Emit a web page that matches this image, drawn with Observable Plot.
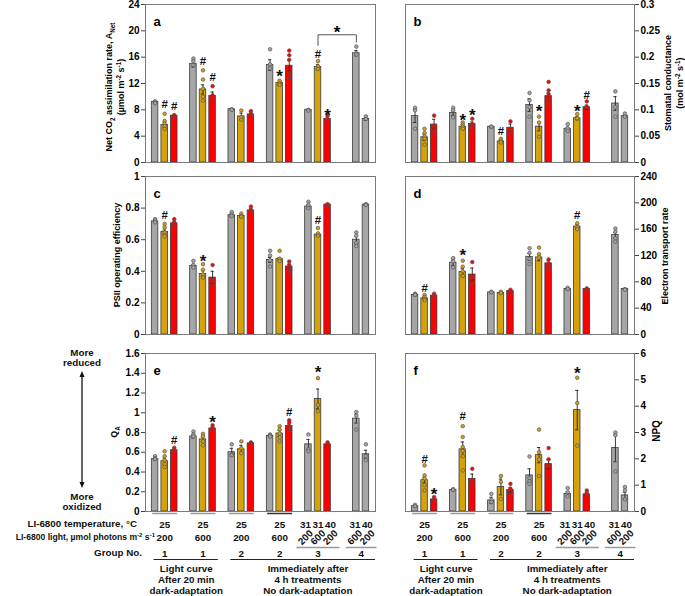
<!DOCTYPE html>
<html><head><meta charset="utf-8">
<script src="https://cdn.jsdelivr.net/npm/d3@7"></script>
<script src="https://cdn.jsdelivr.net/npm/@observablehq/plot@0.6"></script>
<style>
body{margin:0;background:#fff;}
#fig{position:relative;width:685px;height:596px;overflow:hidden;background:#fff;}
#fig svg{position:absolute;overflow:visible;}
</style></head><body><div id="fig"></div>
<script>
// ---------- DATA ----------
const seriesNames = ["ctrl","gold","red"];
const barGroup  = [0,0,0, 1,1,1, 2,2,2, 3,3,3, 4,4,4, 5,5];
const barPos    = [0,1,2, 0,1,2, 0,1,2, 0,1,2, 0,1,2, 1,2];
const barSeries = ["ctrl","gold","red","ctrl","gold","red","ctrl","gold","red","ctrl","gold","red","ctrl","gold","red","ctrl","ctrl"];

const tempLabels  = [["25"],["25"],["25"],["25"],["31","31","40"],["31","40"]];
const lightLabels = [["200"],["600"],["200"],["600"],["200","600","200"],["600","200"]];
const groupNos    = ["1","1","2","2","3","4"];
const conditionLabels = [["Light curve","After 20 min","dark-adaptation"],["Immediately after","4 h treatments","No dark-adaptation"]];
const conditionGroups = [[0,1],[2,3,4,5]];

// a: Net CO2 assimilation
const meansA = [9.2,5.7,7.1, 15.0,11.1,10.1, 8.1,7.0,7.3, 14.8,12.1,14.7, 8.0,14.5,6.6, 16.6,6.6];
const seA    = [0.2,0.4,0.15, 0.5,0.7,0.6, 0.1,0.5,0.4, 0.8,0.4,0.8, 0.1,0.4,0.3, 0.4,0.2];
const dotsA  = [[9.3,9.1,9.0],[7.4,6.3,5.9,5.5,5.1],[7.2,7.0,7.1],[15.8,15.4,14.8],[14.0,12.6,11.2,10.0,9.4],[11.6,10.2,9.6],[8.1,8.0],[7.9,6.9,6.5],[7.8,7.4,7.1],[17.2,14.9,14.3],[12.4,12.0,11.8],[17.0,16.3,15.6,13.5,13.0],[8.0,7.9],[15.4,14.6,14.2],[7.1,6.6,6.4],[17.6,16.6,16.4],[7.0,6.6]];
const sigA   = [[1,"#",8.8],[2,"#",8.6],[4,"#",15.3],[5,"#",12.9],[10,"*",13.7],[13,"#",16.5],[14,"*",7.8]];
const bracketA = {from:13, to:15, top:19.4, leftEnd:17.8, rightEnd:18.3, sym:"*", symY:20.3};

// b: stomatal conductance
const meansB = [0.088,0.048,0.072, 0.094,0.068,0.073, 0.068,0.040,0.066, 0.109,0.068,0.126, 0.064,0.084,0.105, 0.112,0.088];
const seB    = [0.012,0.006,0.010, 0.004,0.004,0.004, 0.001,0.003,0.007, 0.012,0.008,0.006, 0.003,0.003,0.004, 0.013,0.002];
const dotsB  = [[0.104,0.099,0.064],[0.064,0.056,0.05,0.045,0.034],[0.089,0.07,0.06],[0.104,0.099,0.086],[0.076,0.072,0.068,0.064],[0.083,0.073,0.068],[0.068,0.068],[0.045,0.041,0.038],[0.078,0.064,0.057],[0.132,0.118,0.105,0.087],[0.087,0.076,0.049],[0.153,0.137,0.13,0.121,0.111],[0.073,0.065,0.06],[0.092,0.084],[0.116,0.106],[0.135,0.105,0.087],[0.093,0.087]];
const sigB   = [[4,"*",0.087],[5,"*",0.097],[7,"#",0.059],[10,"*",0.104],[13,"*",0.104],[14,"#",0.128]];

// c: PSII operating efficiency
const meansC = [0.716,0.65,0.703, 0.434,0.383,0.36, 0.755,0.75,0.785, 0.472,0.477,0.43, 0.81,0.632,0.822, 0.60,0.822];
const seC    = [0.006,0.012,0.01, 0.01,0.02,0.04, 0.01,0.006,0.01, 0.015,0.01,0.015, 0.012,0.006,0.003, 0.02,0.002];
const dotsC  = [[0.73,0.72,0.71],[0.70,0.678,0.646,0.63,0.62],[0.73,0.71,0.69],[0.466,0.44,0.424],[0.445,0.41,0.38,0.36],[0.44,0.34,0.31],[0.775,0.76,0.75],[0.765,0.75,0.745],[0.81,0.79,0.775],[0.53,0.50,0.47,0.43],[0.53,0.48,0.465],[0.462,0.44,0.41,0.39],[0.84,0.82,0.8],[0.674,0.64,0.625],[0.825,0.82],[0.646,0.625,0.58,0.56],[0.825,0.82]];
const sigC   = [[1,"#",0.752],[4,"*",0.487],[13,"#",0.72]];

// d: electron transport rate
const meansD = [60,55,59, 109,95,91, 64,63,66, 118,117,108, 69,164,69, 151,69];
const seD    = [1,2,1, 4,5,10, 1,1,1, 5,5,4, 1,3,1, 4,1];
const dotsD  = [[62,61,60],[60,57,54,52],[62,60,58],[116,111,102],[112,103,96,89],[110,87,78],[65,64],[65,63],[68,66],[131,124,115,107],[132,122,117],[114,108,104,99],[71,69],[169,163,160],[70,69],[161,156,146,141],[69,68]];
const sigD   = [[1,"#",70],[4,"*",126],[13,"#",181.6]];

// e: QA
const meansE = [0.53,0.51,0.62, 0.76,0.73,0.84, 0.60,0.63,0.69, 0.765,0.79,0.865, 0.68,1.14,0.68, 0.94,0.58];
const seE    = [0.01,0.03,0.01, 0.015,0.025,0.01, 0.04,0.04,0.01, 0.008,0.03,0.02, 0.05,0.1,0.01, 0.045,0.04];
const dotsE  = [[0.56,0.54,0.53],[0.61,0.56,0.52,0.48,0.45],[0.645,0.625,0.61],[0.81,0.78,0.76],[0.786,0.76,0.71,0.67],[0.874,0.85,0.83],[0.68,0.58,0.57],[0.71,0.64,0.59],[0.70,0.685],[0.78,0.77,0.76],[0.864,0.83,0.79,0.75,0.71],[0.924,0.90,0.865,0.83],[0.78,0.63,0.61],[1.35,1.08,1.015],[0.70,0.68],[1.008,0.97,0.83],[0.68,0.56,0.52]];
const sigE   = [[2,"#",0.72],[5,"*",0.94],[11,"#",1.008],[13,"*",1.452]];

// f: NPQ
const meansF = [0.2,1.19,0.46, 0.82,2.36,1.24, 0.42,0.93,0.82, 1.37,2.14,1.8, 0.67,3.85,0.65, 2.41,0.61];
const seF    = [0.03,0.1,0.05, 0.03,0.28,0.18, 0.12,0.3,0.1, 0.25,0.29,0.18, 0.08,0.75,0.05, 0.52,0.12];
const dotsF  = [[0.25,0.2],[1.75,1.37,1.25,1.0,0.8],[0.55,0.45],[0.85,0.82],[3.24,2.83,2.45,2.3,2.1,1.56],[1.62,1.2,1.05],[0.67,0.45,0.36],[1.35,1.12,0.48],[1.05,0.86,0.65],[2.09,1.27,1.15,1.05],[3.11,2.25,1.97,1.35],[2.41,1.98,1.72,1.31],[0.89,0.73,0.58],[5.08,4.12,2.5],[0.8,0.7,0.65],[3.0,2.9,1.52],[0.93,0.8,0.46]];
const sigF   = [[1,"#",2.0],[2,"*",0.8],[4,"#",3.6],[13,"*",5.4]];

const ticksA = [0,4,8,12,16,20,24];
const ticksB = [0,0.05,0.1,0.15,0.2,0.25,0.3];
const ticksC = [0,0.2,0.4,0.6,0.8,1];
const ticksD = [0,40,80,120,160,200,240];
const ticksE = [0,0.2,0.4,0.6,0.8,1,1.2,1.4,1.6];
const ticksF = [0,1,2,3,4,5,6];

// ---------- STYLE / LAYOUT ----------
const FONT = '"Liberation Sans", Arial, Helvetica, sans-serif';
const colorScale = {domain: seriesNames, range: ["#a6a6a6","#d6a20c","#ff0000"]};
const XDOM = [-1, 23];
const fig = document.getElementById("fig");
const slotOf = i => 4*barGroup[i] + barPos[i];
const groupSlots = k => barGroup.map((g,i)=>g===k?slotOf(i):null).filter(v=>v!==null);
const groupCenter = k => d3.mean(groupSlots(k));

function place(svg, left, top){ svg.style.left = left+"px"; svg.style.top = top+"px"; fig.appendChild(svg); return svg; }

function rotTitle(svg, x, y, parts, fs=9){
  const t = d3.select(svg).append("text")
    .attr("transform", `translate(${x + 0.35*fs},${y}) rotate(-90)`)
    .attr("text-anchor","middle").attr("font-size",fs).attr("font-weight","bold")
    .attr("font-family",FONT).attr("fill","#000");
  let cur = 0;
  for (const [s, kind] of parts){
    const want = kind==="sub" ? 0.28*fs : kind==="sup" ? -0.38*fs : 0;
    t.append("tspan").attr("dy", want-cur).attr("font-size", kind ? 0.7*fs : fs).text(s);
    cur = want;
  }
}

function makePanel(spec){
  const left = spec.side === "left";
  const bars = spec.means.map((m,i)=>({slot: slotOf(i), mean: m, se: spec.se[i], series: barSeries[i]}));
  const pts = spec.dots.flatMap((arr,i)=>arr.map(v=>({slot: slotOf(i), v, series: barSeries[i]})));
  const sig = spec.sig.map(([i,sym,y])=>({slot: slotOf(i), sym, y}));
  const marks = [
    Plot.axisY({anchor: left ? "left" : "right", ticks: spec.ticks, tickFormat: d => String(d), tickSize: 4, tickPadding: 2, label: null, stroke:"#444", fontSize: 10}),
    Plot.rect(bars, {x1: d=>d.slot-0.34, x2: d=>d.slot+0.34, y1: 0, y2: "mean", fill: "series", stroke: "#3a3a3a", strokeWidth: 0.8}),
    Plot.ruleX(bars, {x: "slot", y1: d=>d.mean-d.se, y2: d=>d.mean+d.se, stroke: "#222", strokeWidth: 0.9}),
    Plot.ruleY(bars, {y: d=>d.mean+d.se, x1: d=>d.slot-0.17, x2: d=>d.slot+0.17, stroke: "#222", strokeWidth: 0.9}),
    Plot.ruleY(bars, {y: d=>d.mean-d.se, x1: d=>d.slot-0.17, x2: d=>d.slot+0.17, stroke: "#222", strokeWidth: 0.9}),
    Plot.dot(pts, {x: "slot", y: "v", r: 1.8, fill: "series", stroke: "#555", strokeWidth: 0.7}),
    Plot.text(sig.filter(d=>d.sym==="#"), {x: "slot", y: "y", text: "sym", fontSize: 11.5, fontWeight: "bold", fill: "#111"}),
    Plot.text(sig.filter(d=>d.sym==="*"), {x: "slot", y: "y", text: "sym", fontSize: 17, fontWeight: "bold", dy: 4, fill: "#111"}),
    Plot.frame({stroke: "#7a7a7a", strokeWidth: 1}),
    Plot.text([spec.letter], {frameAnchor: "top-left", dx: 8, dy: 12, textAnchor: "start", fontSize: 13, fontWeight: "bold"})
  ];
  if (spec.bracket){
    const b = spec.bracket;
    const line = [{slot: slotOf(b.from), y: b.leftEnd},{slot: slotOf(b.from), y: b.top},{slot: slotOf(b.to), y: b.top},{slot: slotOf(b.to), y: b.rightEnd}];
    marks.push(Plot.line(line, {x: "slot", y: "y", stroke: "#555", strokeWidth: 1}));
    marks.push(Plot.text([{slot: (slotOf(b.from)+slotOf(b.to))/2, y: b.symY, s: b.sym}], {x: "slot", y: "y", text: "s", fontSize: 17, fontWeight: "bold", dy: 4}));
  }
  const svg = Plot.plot({
    width: left ? 380 : 305, height: 166,
    marginLeft: left ? 145 : 25, marginRight: left ? 5 : 51, marginTop: 4, marginBottom: 4,
    x: {domain: XDOM, axis: null},
    y: {domain: spec.domain, axis: null},
    color: colorScale,
    style: {fontFamily: FONT, fontSize: "10px", fontWeight: "bold", color: "#000", background: "transparent", overflow: "visible"},
    marks
  });
  return place(svg, left ? 0 : 380, spec.top);
}

const pa = makePanel({letter:"a", side:"left", top:0, means:meansA, se:seA, dots:dotsA, sig:sigA, domain:[0,24], ticks:ticksA, bracket:bracketA});
const pb = makePanel({letter:"b", side:"right", top:0, means:meansB, se:seB, dots:dotsB, sig:sigB, domain:[0,0.3], ticks:ticksB});
const pc = makePanel({letter:"c", side:"left", top:172, means:meansC, se:seC, dots:dotsC, sig:sigC, domain:[0,1], ticks:ticksC});
const pd = makePanel({letter:"d", side:"right", top:172, means:meansD, se:seD, dots:dotsD, sig:sigD, domain:[0,240], ticks:ticksD});
const pe = makePanel({letter:"e", side:"left", top:349, means:meansE, se:seE, dots:dotsE, sig:sigE, domain:[0,1.6], ticks:ticksE});
const pf = makePanel({letter:"f", side:"right", top:349, means:meansF, se:seF, dots:dotsF, sig:sigF, domain:[0,6], ticks:ticksF});

// axis titles
rotTitle(pa, 109, 87, [["Net CO"],["2","sub"],[" assimilation rate, A"],["Net","sub"]]);
rotTitle(pa, 121, 87, [["(µmol m"],["-2","sup"],[" s"],["-1","sup"],[")"]]);
rotTitle(pb, 288, 83, [["Stomatal conductance"]]);
rotTitle(pb, 300, 83, [["(mol m"],["-2","sup"],[" s"],["-1","sup"],[")"]]);
rotTitle(pc, 117, 83, [["PSII operating efficiency"]]);
rotTitle(pd, 285, 84, [["Electron transport rate"]]);
rotTitle(pe, 114, 83, [["Q"],["A","sub"]]);
rotTitle(pf, 276, 82, [["NPQ"]], 10);

// bottom category table
const ROW = {topLine:3, temp:14, light:27, rotLight:27, grpLine:37, grp:43, bracket:49, d1:58, d2:69, d3:80};
const SPREAD = 1.3;
function makeTable(side){
  const left = side === "left";
  const temps = [], lights = [], rotLights = [], topLines = [], grpLines = [];
  tempLabels.forEach((labs,k)=>{
    const slots = groupSlots(k);
    const c = groupCenter(k);
    if (labs.length === 1){
      temps.push({x: c, t: labs[0]});
      lights.push({x: c, t: lightLabels[k][0]});
      topLines.push({x1: slots[0]-0.25, x2: slots[slots.length-1]+0.35, dark: k===3});
    } else {
      const n = labs.length;
      labs.forEach((t,j)=>temps.push({x: c + (j-(n-1)/2)*SPREAD, t}));
      lightLabels[k].forEach((t,j)=>rotLights.push({x: c + (j-(n-1)/2)*SPREAD, t}));
      grpLines.push({x1: c - (n-1)/2*SPREAD - 0.9, x2: c + (n-1)/2*SPREAD + 1.0});
    }
  });
  const grps = groupNos.map((t,k)=>({x: groupCenter(k), t}));
  const conds = conditionGroups.map((gs,c)=>({x1: 4*gs[0]-0.1, x2: c===0 ? 4*gs[gs.length-1]+2.6 : XDOM[1], lines: conditionLabels[c]}));
  const condText = conds.flatMap(c=>c.lines.map((t,j)=>({x: (c.x1+c.x2)/2 + (c.x2===XDOM[1]?0.5:0), row: ["d1","d2","d3"][j], t})));
  const txt = {fontSize: 9.8, fontWeight: "bold", fill: "#111"};
  const svg = Plot.plot({
    width: left ? 380 : 305, height: 86,
    marginLeft: left ? 145 : 25, marginRight: left ? 5 : 51, marginTop: 0, marginBottom: 0,
    x: {domain: XDOM, axis: null},
    y: {domain: [0, 86], range: [0, 86], axis: null},
    style: {fontFamily: FONT, fontWeight: "bold", background: "transparent", overflow: "visible"},
    marks: [
      Plot.ruleY(topLines, {y: ROW.topLine, x1: "x1", x2: "x2", stroke: d=>d.dark ? "#333" : "#999", strokeWidth: 1.5}),
      Plot.text(temps, {x: "x", y: ROW.temp, text: "t", ...txt}),
      Plot.text(lights, {x: "x", y: ROW.light, text: "t", ...txt}),
      Plot.text(rotLights, {x: "x", y: ROW.rotLight, text: "t", rotate: -45, ...txt}),
      Plot.ruleY(grpLines, {y: ROW.grpLine, x1: "x1", x2: "x2", stroke: "#999", strokeWidth: 1.5}),
      Plot.text(grps, {x: "x", y: ROW.grp, text: "t", ...txt}),
      Plot.ruleY(conds, {y: ROW.bracket, x1: "x1", x2: "x2", stroke: "#222", strokeWidth: 1}),
      Plot.text(condText, {x: "x", y: d=>ROW[d.row], text: "t", ...txt})
    ]
  });
  place(svg, left ? 0 : 380, 510);
  if (left){
    const g = d3.select(svg);
    const addRow = (x, y, parts, fs) => {
      const t = g.append("text").attr("x", x).attr("y", y).attr("dy","0.35em").attr("text-anchor","end")
        .attr("font-size", fs).attr("font-weight","bold").attr("font-family",FONT).attr("fill","#111");
      let cur = 0;
      for (const [s, kind] of parts){
        const want = kind==="sup" ? -0.35*fs : 0;
        const ts = t.append("tspan").attr("font-size", kind ? 0.7*fs : fs).text(s);
        if (want !== cur) ts.attr("dy", want-cur);
        cur = want;
      }
    };
    addRow(137, ROW.temp, [["LI-6800 temperature, °C"]], 9.8);
    addRow(155, ROW.light, [["LI-6800 light, µmol photons m"],["-2","sup"],[" s"],["-1","sup"]], 8.6);
    addRow(142, ROW.grp, [["Group No."]], 9.8);
  }
}
makeTable("left");
makeTable("right");

// "More reduced / More oxidized" annotation
(function(){
  const svg = d3.create("svg").attr("width", 120).attr("height", 175).attr("font-family", FONT).attr("font-weight","bold").attr("font-size", 9.8);
  const cx = 82;
  [["More",13],["reduced",23],["More",157],["oxidized",167]].forEach(([t,y])=>
    svg.append("text").attr("x",cx).attr("y",y).attr("dy","0.35em").attr("text-anchor","middle").attr("fill","#111").text(t));
  svg.append("line").attr("x1",cx).attr("x2",cx).attr("y1",35).attr("y2",144).attr("stroke","#111").attr("stroke-width",1.3);
  svg.append("path").attr("d",`M${cx-2.5},37 L${cx},31 L${cx+2.5},37 Z`).attr("fill","#111");
  svg.append("path").attr("d",`M${cx-2.5},142 L${cx},148 L${cx+2.5},142 Z`).attr("fill","#111");
  place(svg.node(), 0, 340);
})();
</script></body></html>
